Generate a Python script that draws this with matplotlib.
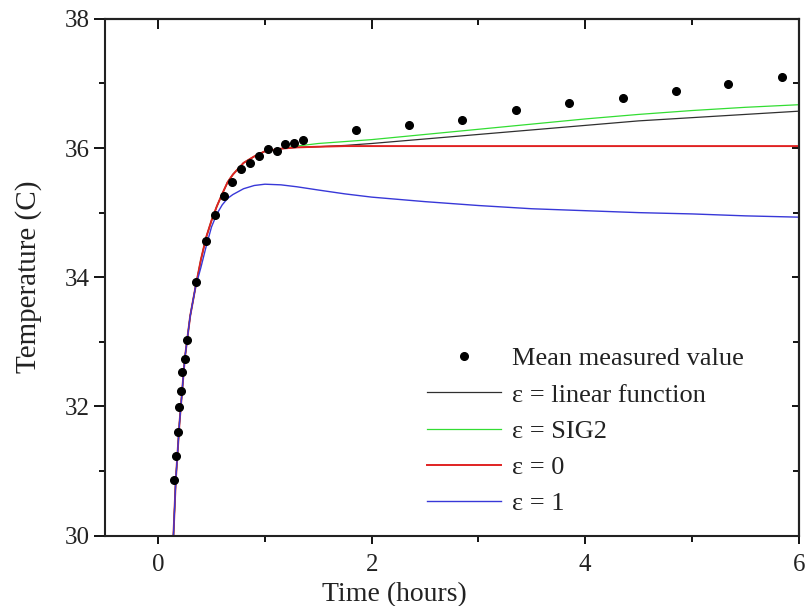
import numpy as np
import matplotlib as mpl
mpl.use('Agg')
from matplotlib import pyplot as plt
from matplotlib.ticker import MultipleLocator

# measured mean temperature (dots)
t_meas = [0.150, 0.165, 0.187, 0.199, 0.215, 0.227, 0.250, 0.274, 0.352, 0.446,
          0.533, 0.617, 0.694, 0.779, 0.863, 0.944, 1.028, 1.109, 1.190, 1.274,
          1.355, 1.853, 2.350, 2.845, 3.350, 3.850, 4.350, 4.850, 5.340, 5.840]
T_meas = [30.86, 31.24, 31.60, 31.99, 32.24, 32.53, 32.74, 33.03, 33.92, 34.56,
          34.97, 35.26, 35.48, 35.67, 35.77, 35.87, 35.98, 35.96, 36.06, 36.08,
          36.13, 36.28, 36.35, 36.43, 36.59, 36.70, 36.78, 36.89, 36.99, 37.10]

# model curves
t_mod = [0.143, 0.165, 0.20, 0.25, 0.30, 0.35, 0.40, 0.45, 0.50, 0.55,
         0.60, 0.65, 0.70, 0.80, 0.90, 1.00, 1.15, 1.30, 1.50, 1.75,
         2.00, 2.50, 3.00, 3.50, 4.00, 4.50, 5.00, 5.50, 6.00]
T_lin = [30.00, 30.86, 31.75, 32.75, 33.40, 33.85, 34.27, 34.62, 34.88, 35.10,
         35.29, 35.47, 35.59, 35.77, 35.87, 35.95, 35.99, 36.01, 36.02, 36.04,
         36.07, 36.14, 36.21, 36.28, 36.35, 36.42, 36.47, 36.52, 36.57]
T_sig2 = [30.00, 30.86, 31.75, 32.75, 33.40, 33.85, 34.27, 34.62, 34.88, 35.10,
          35.29, 35.47, 35.59, 35.77, 35.87, 35.95, 35.99, 36.03, 36.07, 36.10,
          36.13, 36.21, 36.29, 36.37, 36.45, 36.52, 36.58, 36.63, 36.67]
T_eps0 = [30.00, 30.86, 31.75, 32.75, 33.40, 33.85, 34.27, 34.62, 34.88, 35.10,
          35.29, 35.47, 35.59, 35.77, 35.87, 35.95, 35.99, 36.01, 36.02, 36.03,
          36.03, 36.03, 36.03, 36.03, 36.03, 36.03, 36.03, 36.03, 36.03]
T_eps1 = [30.00, 30.86, 31.75, 32.75, 33.40, 33.85, 34.15, 34.48, 34.78, 34.98,
          35.12, 35.22, 35.28, 35.37, 35.42, 35.44, 35.43, 35.40, 35.35, 35.29,
          35.24, 35.17, 35.11, 35.06, 35.03, 35.00, 34.98, 34.95, 34.93]

plt.rcParams['font.family'] = ['Liberation Serif', 'DejaVu Serif']
fs = 20
tc = '#222222'

f = plt.figure(figsize=(8.06, 6.06), dpi=100)
ax = f.add_axes([0.130, 0.116, 0.861, 0.853])

ax.plot(t_mod, T_lin, color='#303030', lw=0.9, label='ε = linear function')
ax.plot(t_mod, T_sig2, color='#33dd33', lw=0.9, label='ε = SIG2')
ax.plot(t_mod, T_eps0, color='#e02222', lw=1.4, label='ε = 0')
ax.plot(t_mod, T_eps1, color='#3838d8', lw=1.0, label='ε = 1')
ax.plot(t_meas, T_meas, 'o', color='black', ms=5.5, zorder=5,
        label='Mean measured value')

ax.set_xlim(-0.5, 6)
ax.set_ylim(30, 38)
ax.xaxis.set_major_locator(MultipleLocator(2))
ax.xaxis.set_minor_locator(MultipleLocator(1))
ax.yaxis.set_major_locator(MultipleLocator(2))
ax.yaxis.set_minor_locator(MultipleLocator(1))

for s in ax.spines.values():
    s.set_linewidth(1.5)
    s.set_color('#222222')

ax.tick_params(axis='y', which='major', direction='out', length=8, width=1.3,
               labelsize=18, labelcolor=tc, pad=3)
ax.tick_params(axis='y', which='minor', direction='out', length=4.5, width=1.3)
ax.tick_params(axis='x', which='major', direction='out', length=6, width=1.3,
               labelsize=18, labelcolor=tc, pad=7)
ax.tick_params(axis='x', which='minor', direction='out', length=4, width=1.3)

# inward ticks on top and right
top = ax.secondary_xaxis('top')
top.xaxis.set_major_locator(MultipleLocator(2))
top.xaxis.set_minor_locator(MultipleLocator(1))
top.tick_params(which='major', direction='in', length=7, width=1.3, labeltop=False)
top.tick_params(which='minor', direction='in', length=4, width=1.3)
top.spines['top'].set_linewidth(1.5)
right = ax.secondary_yaxis('right')
right.yaxis.set_major_locator(MultipleLocator(2))
right.yaxis.set_minor_locator(MultipleLocator(1))
right.tick_params(which='major', direction='in', length=5, width=1.3, labelright=False)
right.tick_params(which='minor', direction='in', length=4, width=1.3)
right.spines['right'].set_linewidth(1.5)

ax.set_xlabel('Time (hours)', fontsize=fs, color=tc)
ax.xaxis.set_label_coords(0.418, -0.09)
ax.set_ylabel('Temperature (C)', fontsize=21, color=tc)
ax.yaxis.set_label_coords(-0.091, 0.5)

h, l = ax.get_legend_handles_labels()
order = [4, 0, 1, 2, 3]
ax.legend([h[i] for i in order], [l[i] for i in order], loc='lower left',
          bbox_to_anchor=(0.465, 0.04), frameon=False, fontsize=19,
          handlelength=2.8, handletextpad=0.4, labelspacing=0.48,
          borderpad=0, borderaxespad=0, labelcolor=tc)

f.savefig('out.png', dpi=100)
